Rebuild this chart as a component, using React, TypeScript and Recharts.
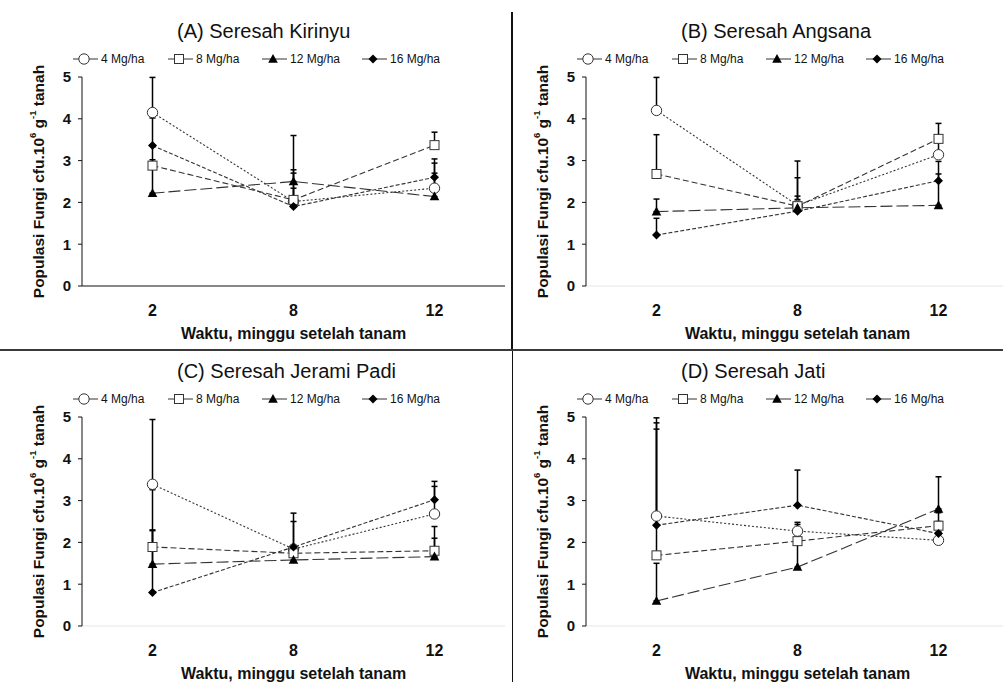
import React from 'react'
import { LineChart, Line, XAxis, YAxis, ErrorBar, Label } from 'recharts'

const WEEKS = ['2', '8', '12']
const DOSES = ['4 Mg/ha', '8 Mg/ha', '12 Mg/ha', '16 Mg/ha']
const Y_TICKS = [0, 1, 2, 3, 4, 5]

// rows = dose (4, 8, 12, 16 Mg/ha), columns = week 2, 8, 12
const kirinyuMeans = [
  [4.15, 2.02, 2.34],
  [2.88, 2.06, 3.37],
  [2.22, 2.5, 2.14],
  [3.36, 1.9, 2.6],
]
// upper error bar length
const kirinyuErrors = [
  [0.84, 0.68, 0.6],
  [0.5, 1.54, 0.31],
  [0.8, 0.28, 0.56],
  [0.66, 0.44, 0.44],
]

const angsanaMeans = [
  [4.2, 1.93, 3.14],
  [2.68, 1.91, 3.52],
  [1.78, 1.87, 1.93],
  [1.22, 1.79, 2.52],
]
const angsanaErrors = [
  [0.79, 0.66, 0.32],
  [0.94, 1.08, 0.37],
  [0.3, 0.2, 1.05],
  [0.4, 0.36, 0.16],
]

const jeramiMeans = [
  [3.39, 1.84, 2.68],
  [1.89, 1.74, 1.8],
  [1.48, 1.58, 1.66],
  [0.8, 1.89, 3.02],
]
const jeramiErrors = [
  [1.55, 0.66, 0.66],
  [1.37, 0.15, 0.58],
  [0.8, 0.15, 0.44],
  [1.5, 0.81, 0.44],
]

const jatiMeans = [
  [2.63, 2.27, 2.05],
  [1.69, 2.03, 2.4],
  [0.6, 1.41, 2.8],
  [2.41, 2.89, 2.21],
]
const jatiErrors = [
  [2.23, 0.21, 0.2],
  [3.29, 0.4, 0.1],
  [0.9, 0.6, 0.77],
  [2.3, 0.84, 0.5],
]

const DASHES = ['2 2', '6 3', '12 4', '4 2']
const LEGEND_WIDTHS = [95, 94, 100, 90]
const INK = '#111'

const buildRows = (means: number[][], errors: number[][]) =>
  WEEKS.map((week, i) => {
    const row: Record<string, any> = { week }
    DOSES.forEach((_, s) => {
      row[`d${s}`] = means[s][i]
      row[`e${s}`] = [0, errors[s][i]]
    })
    return row
  })

function Marker({ kind, cx, cy }: { kind: number; cx: number; cy: number }) {
  if (kind === 0) return <circle cx={cx} cy={cy} r={5.2} fill="#fff" stroke="#333" strokeWidth={1} />
  if (kind === 1) return <rect x={cx - 4.5} y={cy - 4.5} width={9} height={9} fill="#fff" stroke="#333" strokeWidth={1} />
  if (kind === 2)
    return <polygon points={`${cx},${cy - 5} ${cx + 4.8},${cy + 3.8} ${cx - 4.8},${cy + 3.8}`} fill="#000" />
  return <polygon points={`${cx},${cy - 4.5} ${cx + 4.5},${cy} ${cx},${cy + 4.5} ${cx - 4.5},${cy}`} fill="#000" />
}

const dotFor = (kind: number) => (props: any) => {
  const { cx, cy, index } = props
  if (cx == null || cy == null) return <g key={`m${kind}-${index}`} />
  return (
    <g key={`m${kind}-${index}`}>
      <Marker kind={kind} cx={cx} cy={cy} />
    </g>
  )
}

const YTitle = (props: any) => {
  const vb = props.viewBox || { x: 30, y: 77, width: 52, height: 209 }
  const cx = vb.x + 8
  const cy = vb.y + vb.height / 2
  return (
    <text
      x={cx}
      y={cy}
      transform={`rotate(-90 ${cx} ${cy})`}
      textAnchor="middle"
      dominantBaseline="central"
      fontSize={15.5}
      fontWeight="bold"
      fill={INK}
    >
      Populasi Fungi cfu.10<tspan baselineShift="super" fontSize={9.5}>6</tspan> g
      <tspan baselineShift="super" fontSize={9.5}>-1</tspan> tanah
    </text>
  )
}

function Legend({ top }: { top: number }) {
  return (
    <div style={{ position: 'absolute', left: 73, top, display: 'flex', height: 14, alignItems: 'center' }}>
      {DOSES.map((dose, s) => (
        <div key={dose} style={{ width: LEGEND_WIDTHS[s], display: 'flex', alignItems: 'center' }}>
          <svg width={25} height={12}>
            <line x1={0} y1={6} x2={25} y2={6} stroke="#333" strokeWidth={1} />
            <Marker kind={s} cx={11} cy={6} />
          </svg>
          <span style={{ fontSize: 12, marginLeft: 3, color: INK, whiteSpace: 'nowrap' }}>{dose}</span>
        </div>
      ))}
    </div>
  )
}

function Panel({
  title,
  means,
  errors,
  left,
  top,
  xAxisColor,
}: {
  title: string
  means: number[][]
  errors: number[][]
  left: number
  top: number
  xAxisColor: string
}) {
  const rows = buildRows(means, errors)
  return (
    <div style={{ position: 'absolute', left, top, width: 506, height: 346 }}>
      <div style={{ position: 'absolute', left: 177, top: 20, fontSize: 20, color: INK, whiteSpace: 'nowrap' }}>
        {title}
      </div>
      <Legend top={52} />
      <LineChart width={506} height={346} data={rows} margin={{ top: 77, right: 1, bottom: 0, left: 30 }}>
        <XAxis
          dataKey="week"
          height={60}
          padding={{ left: 70.5, right: 70.5 }}
          tickLine={false}
          tickSize={0}
          tickMargin={19}
          axisLine={{ stroke: xAxisColor }}
          tick={{ fontSize: 16, fontWeight: 'bold', fill: INK }}
        >
          <Label
            value="Waktu, minggu setelah tanam"
            position="insideBottom"
            offset={7}
            style={{ fontSize: 16, fontWeight: 'bold', fill: INK }}
          />
        </XAxis>
        <YAxis
          width={52}
          domain={[0, 5]}
          ticks={Y_TICKS}
          allowDataOverflow
          tickSize={4}
          tickMargin={7}
          axisLine={{ stroke: '#111' }}
          tickLine={{ stroke: '#111' }}
          tick={{ fontSize: 15, fontWeight: 'bold', fill: INK }}
        >
          <Label content={YTitle} />
        </YAxis>
        {DOSES.map((dose, s) => (
          <Line
            key={dose}
            dataKey={`d${s}`}
            name={dose}
            stroke="#333"
            strokeWidth={1.1}
            strokeDasharray={DASHES[s]}
            dot={dotFor(s)}
            activeDot={false}
            isAnimationActive={false}
          >
            <ErrorBar dataKey={`e${s}`} direction="y" width={3} stroke="#000" strokeWidth={1.5} isAnimationActive={false} />
          </Line>
        ))}
      </LineChart>
    </div>
  )
}

export default function App() {
  return (
    <div
      style={{
        position: 'absolute',
        left: 0,
        top: 0,
        width: 1003,
        height: 682,
        overflow: 'hidden',
        background: '#fff',
        fontFamily: '"Liberation Sans", Arial, sans-serif',
      }}
    >
      <Panel title="(A) Seresah Kirinyu" means={kirinyuMeans} errors={kirinyuErrors} left={0} top={0} xAxisColor="#111" />
      <Panel title="(B) Seresah Angsana" means={angsanaMeans} errors={angsanaErrors} left={504} top={0} xAxisColor="#e6e6e6" />
      <Panel title="(C) Seresah Jerami Padi" means={jeramiMeans} errors={jeramiErrors} left={0} top={340} xAxisColor="#e6e6e6" />
      <Panel title="(D) Seresah Jati" means={jatiMeans} errors={jatiErrors} left={504} top={340} xAxisColor="#e6e6e6" />
      {/* panel dividers */}
      <div style={{ position: 'absolute', left: 511, top: 12, width: 2, height: 338, background: '#111' }} />
      <div style={{ position: 'absolute', left: 512, top: 350, width: 1, height: 332, background: '#111' }} />
      <div style={{ position: 'absolute', left: 0, top: 349, width: 1003, height: 2, background: '#3a3a3a' }} />
    </div>
  )
}
